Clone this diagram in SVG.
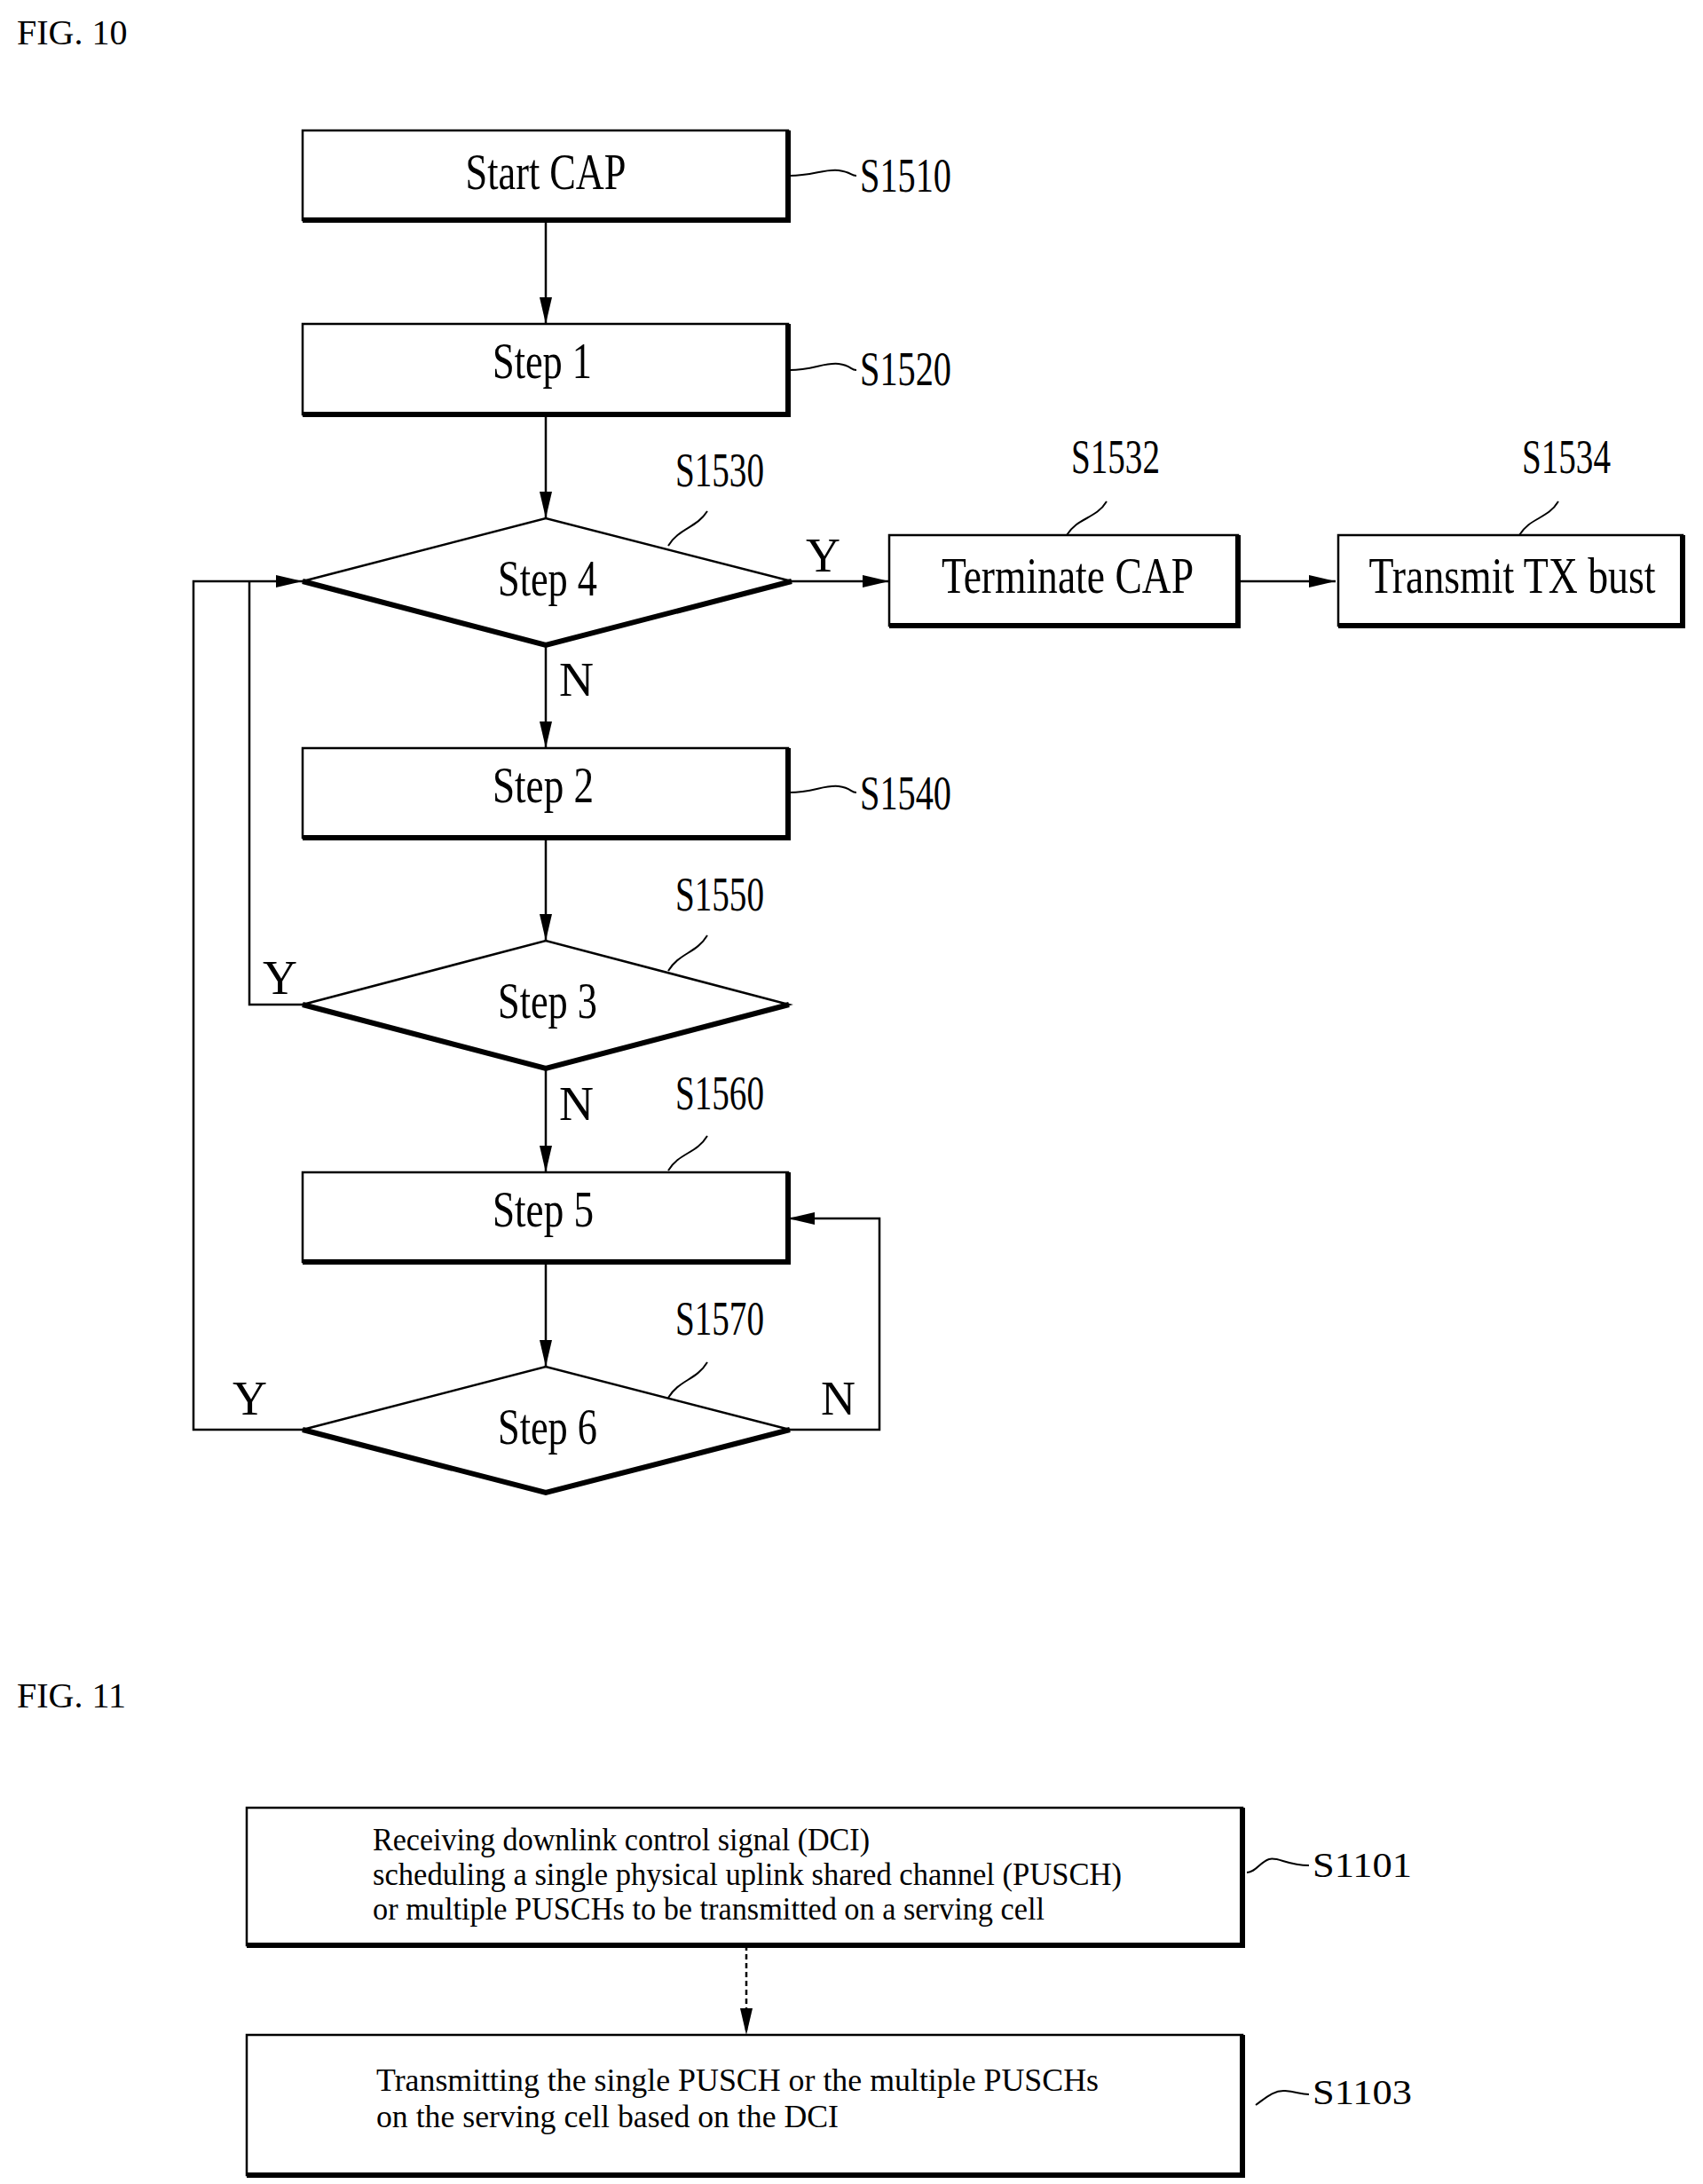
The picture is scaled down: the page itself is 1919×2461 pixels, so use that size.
<svg xmlns="http://www.w3.org/2000/svg" width="1919" height="2461" viewBox="0 0 1919 2461">
<style>
text{font-family:"Liberation Serif","Times New Roman",serif;fill:#000}
.b{fill:#fff;stroke:#000;stroke-width:2.5}
.sh{fill:none;stroke:#000;stroke-width:6}
.c{fill:none;stroke:#000;stroke-width:2.5}
.l{fill:none;stroke:#000;stroke-width:2}
.t{font-size:56px;text-anchor:middle}
.r{font-size:54px}
.s{font-size:36px}
</style>
<defs>
<marker id="ab" markerWidth="30" markerHeight="14" refX="30" refY="7" orient="auto" markerUnits="userSpaceOnUse"><path d="M0,0 L30,7 L0,14 Z"/></marker></defs>
<text x="19" y="50" style="font-size:40px">FIG. 10</text>
<text x="19" y="1924" style="font-size:40px">FIG. 11</text>
<g id="connectors">
<path class="c" d="M615,248 V365" marker-end="url(#ab)"/>
<path class="c" d="M615,467 V584" marker-end="url(#ab)"/>
<path class="c" d="M892,655 H1002" marker-end="url(#ab)"/>
<path class="c" d="M1395,655 H1505" marker-end="url(#ab)"/>
<path class="c" d="M615,727 V843" marker-end="url(#ab)"/>
<path class="c" d="M615,944 V1060" marker-end="url(#ab)"/>
<path class="c" d="M615,1204 V1321" marker-end="url(#ab)"/>
<path class="c" d="M615,1422 V1540" marker-end="url(#ab)"/>
<path class="c" d="M341,1611 H218 V655 H341" marker-end="url(#ab)"/>
<path class="c" d="M341,1132 H281 V655"/>
<path class="c" d="M890,1611 H991 V1373 H888" marker-end="url(#ab)"/>
<path class="c" d="M841,2192 V2293" stroke-dasharray="6,4" marker-end="url(#ab)"/>
<text x="908" y="644" class="r">Y</text>
<text x="630" y="784" class="r">N</text>
<text x="296" y="1120" class="r">Y</text>
<text x="630" y="1262" class="r">N</text>
<text x="262" y="1594" class="r">Y</text>
<text x="925" y="1594" class="r">N</text>
</g>
<g id="S1510"><rect class="b" x="341" y="147" width="547" height="101"/><path class="sh" d="M341,248 H888 V147"/><text x="615" y="213" class="t" textLength="181" lengthAdjust="spacingAndGlyphs">Start CAP</text>
<path class="l" d="M890,198 C915,198 930,190 945,192 S958,198 965,198"/><text x="969" y="216" class="r" textLength="103" lengthAdjust="spacingAndGlyphs">S1510</text></g>
<g id="S1520"><rect class="b" x="341" y="365" width="547" height="102"/><path class="sh" d="M341,467 H888 V365"/><text x="611" y="426" class="t" textLength="112" lengthAdjust="spacingAndGlyphs">Step 1</text>
<path class="l" d="M890,417 C915,417 930,408 945,410 S958,417 965,417"/><text x="969" y="434" class="r" textLength="103" lengthAdjust="spacingAndGlyphs">S1520</text></g>
<g id="S1530"><path class="b" d="M341,655 L615,584 L892,655 L615,727 Z"/><path class="sh" d="M341,655 L615,727 L892,655"/><text x="617" y="671" class="t" textLength="112" lengthAdjust="spacingAndGlyphs">Step 4</text>
<path class="l" d="M753,615 C765,595 785,595 797,576"/><text x="761" y="548" class="r" textLength="100" lengthAdjust="spacingAndGlyphs">S1530</text></g>
<g id="S1532"><rect class="b" x="1002" y="603" width="393" height="102"/><path class="sh" d="M1002,705 H1395 V603"/><text x="1203" y="668" class="t" textLength="284" lengthAdjust="spacingAndGlyphs">Terminate CAP</text>
<path class="l" d="M1202,603 C1214,583 1235,585 1247,565"/><text x="1207" y="533" class="r" textLength="100" lengthAdjust="spacingAndGlyphs">S1532</text></g>
<g id="S1534"><rect class="b" x="1508" y="603" width="388" height="102"/><path class="sh" d="M1508,705 H1896 V603"/><text x="1704" y="668" class="t" textLength="323" lengthAdjust="spacingAndGlyphs">Transmit TX bust</text>
<path class="l" d="M1712,603 C1724,583 1744,585 1756,565"/><text x="1715" y="533" class="r" textLength="100" lengthAdjust="spacingAndGlyphs">S1534</text></g>
<g id="S1540"><rect class="b" x="341" y="843" width="547" height="101"/><path class="sh" d="M341,944 H888 V843"/><text x="612" y="904" class="t" textLength="114" lengthAdjust="spacingAndGlyphs">Step 2</text>
<path class="l" d="M890,893 C915,893 930,884 945,886 S958,893 965,893"/><text x="969" y="912" class="r" textLength="103" lengthAdjust="spacingAndGlyphs">S1540</text></g>
<g id="S1550"><path class="b" d="M341,1132 L615,1060 L889,1132 L615,1204 Z"/><path class="sh" d="M341,1132 L615,1204 L889,1132"/><text x="617" y="1147" class="t" textLength="112" lengthAdjust="spacingAndGlyphs">Step 3</text>
<path class="l" d="M753,1094 C765,1074 785,1074 797,1054"/><text x="761" y="1026" class="r" textLength="100" lengthAdjust="spacingAndGlyphs">S1550</text></g>
<g id="S1560"><rect class="b" x="341" y="1321" width="547" height="101"/><path class="sh" d="M341,1422 H888 V1321"/><text x="612" y="1382" class="t" textLength="114" lengthAdjust="spacingAndGlyphs">Step 5</text>
<path class="l" d="M753,1319 C765,1299 785,1300 797,1280"/><text x="761" y="1250" class="r" textLength="100" lengthAdjust="spacingAndGlyphs">S1560</text></g>
<g id="S1570"><path class="b" d="M341,1611 L615,1540 L890,1611 L615,1682 Z"/><path class="sh" d="M341,1611 L615,1682 L890,1611"/><text x="617" y="1627" class="t" textLength="112" lengthAdjust="spacingAndGlyphs">Step 6</text>
<path class="l" d="M753,1575 C765,1555 785,1555 797,1535"/><text x="761" y="1504" class="r" textLength="100" lengthAdjust="spacingAndGlyphs">S1570</text></g>
<g id="S1101"><rect class="b" x="278" y="2037" width="1122" height="155"/><path class="sh" d="M278,2192 H1400 V2037"/>
<text x="420" y="2085" class="s" textLength="560" lengthAdjust="spacingAndGlyphs">Receiving downlink control signal (DCI)</text>
<text x="420" y="2124" class="s" textLength="844" lengthAdjust="spacingAndGlyphs">scheduling a single physical uplink shared channel (PUSCH)</text>
<text x="420" y="2163" class="s" textLength="757" lengthAdjust="spacingAndGlyphs">or multiple PUSCHs to be transmitted on a serving cell</text>
<path class="l" d="M1405,2110 C1415,2110 1420,2098 1430,2095 S1450,2102 1475,2102"/><text x="1479" y="2115" style="font-size:40px" textLength="112" lengthAdjust="spacingAndGlyphs">S1101</text></g>
<g id="S1103"><rect class="b" x="278" y="2293" width="1122" height="158"/><path class="sh" d="M278,2451 H1400 V2293"/>
<text x="424" y="2356" class="s" textLength="814" lengthAdjust="spacingAndGlyphs">Transmitting the single PUSCH or the multiple PUSCHs</text>
<text x="424" y="2397" class="s" textLength="521" lengthAdjust="spacingAndGlyphs">on the serving cell based on the DCI</text>
<path class="l" d="M1415,2372 C1425,2365 1435,2355 1448,2356 S1465,2360 1475,2360"/><text x="1479" y="2371" style="font-size:40px" textLength="112" lengthAdjust="spacingAndGlyphs">S1103</text></g>
</svg>
